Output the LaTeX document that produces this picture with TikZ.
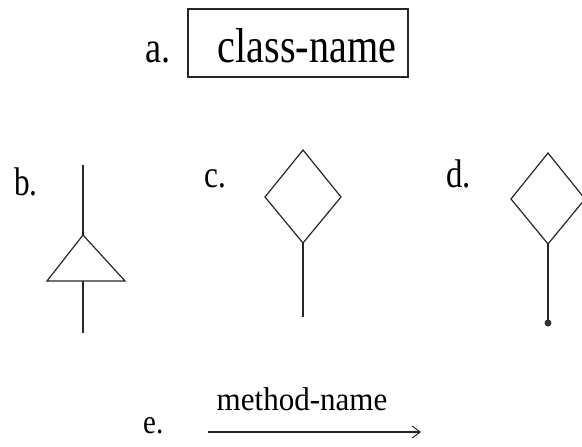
\documentclass[tikz,border=0pt]{standalone}
\usepackage{fontspec}
\setmainfont{Liberation Serif}
\usetikzlibrary{arrows.meta}
\newcommand{\cnd}[2][0.82]{\scalebox{#1}[1]{#2}}
\begin{document}
\begin{tikzpicture}[x=1pt,y=-1pt,
  ln/.style={line width=1.2pt, black!85},
  lbl/.style={font=\fontsize{40}{40}\selectfont, anchor=base west, inner sep=0},
  bigtxt/.style={font=\fontsize{49}{49}\selectfont, inner sep=0}]
\useasboundingbox (0,0) rectangle (582,447);
% a
\node[lbl, font=\fontsize{44}{44}\selectfont] (la) at (145,62) {\cnd{a.}};
\node[draw, ln, minimum width=220pt, minimum height=68pt, inner sep=0] (cls) at (298,43) {};
\node[bigtxt, anchor=base] (clst) at (307,62) {\cnd{class-name}};
% b
\node[lbl] (lb) at (14,195) {\cnd[0.78]{b.}};
\coordinate (btop) at (83,165);
\coordinate (bapex) at (83,235);
\coordinate (bl) at (47,281);
\coordinate (br) at (125,281);
\coordinate (bbm) at (83,281);
\coordinate (bbot) at (83,333);
\draw[ln] (btop) -- (bapex);
\draw[ln, line join=miter] (bapex) -- (bl) -- (br) -- cycle;
\draw[ln] (bbm) -- (bbot);
% c
\node[lbl, font=\fontsize{38}{38}\selectfont] (lc) at (204,187) {\cnd{c.}};
\coordinate (ct) at (303,150);
\coordinate (cl) at (265,197);
\coordinate (cr) at (341,197);
\coordinate (cb) at (303,243);
\coordinate (cend) at (303,317);
\draw[ln] (ct) -- (cr) -- (cb) -- (cl) -- cycle;
\draw[ln] (cb) -- (cend);
% d
\node[lbl] (ld) at (446,187) {\cnd{d.}};
\coordinate (dt) at (548,153);
\coordinate (dl) at (511,199);
\coordinate (dr) at (585,199);
\coordinate (db) at (548,244);
\coordinate (dend) at (548,323);
\draw[ln] (dt) -- (dr) -- (db) -- (dl) -- cycle;
\draw[ln] (db) -- (dend);
\fill[black!80] (dend) circle (3.5pt);
% e
\node[lbl, font=\fontsize{34}{34}\selectfont] (le) at (143,433) {\cnd[0.85]{e.}};
\coordinate (es) at (208,432);
\coordinate (ee) at (421,432);
\draw[ln, -{Straight Barb[length=8pt,width=12pt,line width=1pt]}] (es) -- (ee);
\node[font=\fontsize{33}{33}\selectfont, anchor=base, inner sep=0] (mn) at (302,410) {\cnd[0.94]{method-name}};
\end{tikzpicture}
\end{document}
